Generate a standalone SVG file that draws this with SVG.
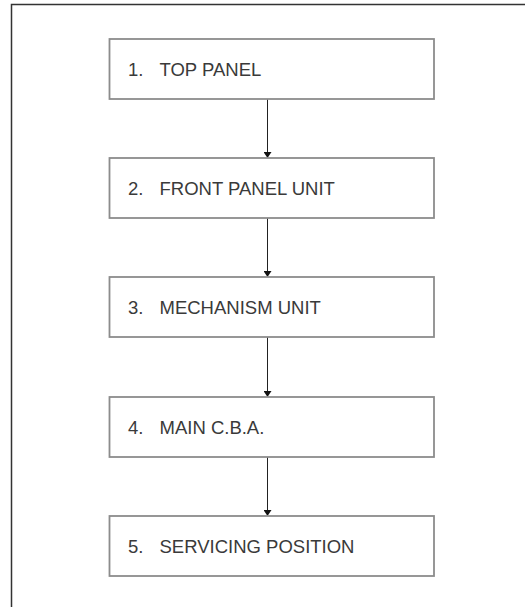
<svg xmlns="http://www.w3.org/2000/svg" width="525" height="607" viewBox="0 0 525 607">
<style>
.box{fill:#fff;stroke:#8c8c8c;stroke-width:1.8}
.num,.lbl{font-family:"Liberation Sans",Arial,sans-serif;font-size:18.5px;fill:#3a3a3a}
.edge{stroke:#222;stroke-width:1;fill:none}
</style>
<defs>
<marker id="ah" markerWidth="6" markerHeight="8" refX="5" refY="4" orient="auto" markerUnits="userSpaceOnUse" viewBox="0 0 6 8">
<path d="M0,0 L6,4 L0,8 Z" fill="#111"/>
</marker>
</defs>
<rect width="525" height="607" fill="#fff"/>
<path d="M11.5,607 V4.5 H525" fill="none" stroke="#333" stroke-width="1.5"/>
<g id="connectors">
<line class="edge" x1="267.5" y1="99" x2="267.5" y2="157" marker-end="url(#ah)"/>
<line class="edge" x1="267.5" y1="218" x2="267.5" y2="276" marker-end="url(#ah)"/>
<line class="edge" x1="267.5" y1="337" x2="267.5" y2="396" marker-end="url(#ah)"/>
<line class="edge" x1="267.5" y1="457" x2="267.5" y2="515" marker-end="url(#ah)"/>
</g>
<g id="n1"><rect class="box" x="109.5" y="39" width="324.5" height="60"/><text class="num" x="128" y="75.5">1.</text><text class="lbl" x="159.5" y="75.5">TOP PANEL</text></g>
<g id="n2"><rect class="box" x="109.5" y="158" width="324.5" height="60"/><text class="num" x="128" y="194.5">2.</text><text class="lbl" x="159.5" y="194.5">FRONT PANEL UNIT</text></g>
<g id="n3"><rect class="box" x="109.5" y="277" width="324.5" height="60"/><text class="num" x="128" y="313.5">3.</text><text class="lbl" x="159.5" y="313.5">MECHANISM UNIT</text></g>
<g id="n4"><rect class="box" x="109.5" y="397" width="324.5" height="60"/><text class="num" x="128" y="433.5">4.</text><text class="lbl" x="159.5" y="433.5">MAIN C.B.A.</text></g>
<g id="n5"><rect class="box" x="109.5" y="516" width="324.5" height="60"/><text class="num" x="128" y="552.5">5.</text><text class="lbl" x="159.5" y="552.5">SERVICING POSITION</text></g>
</svg>
